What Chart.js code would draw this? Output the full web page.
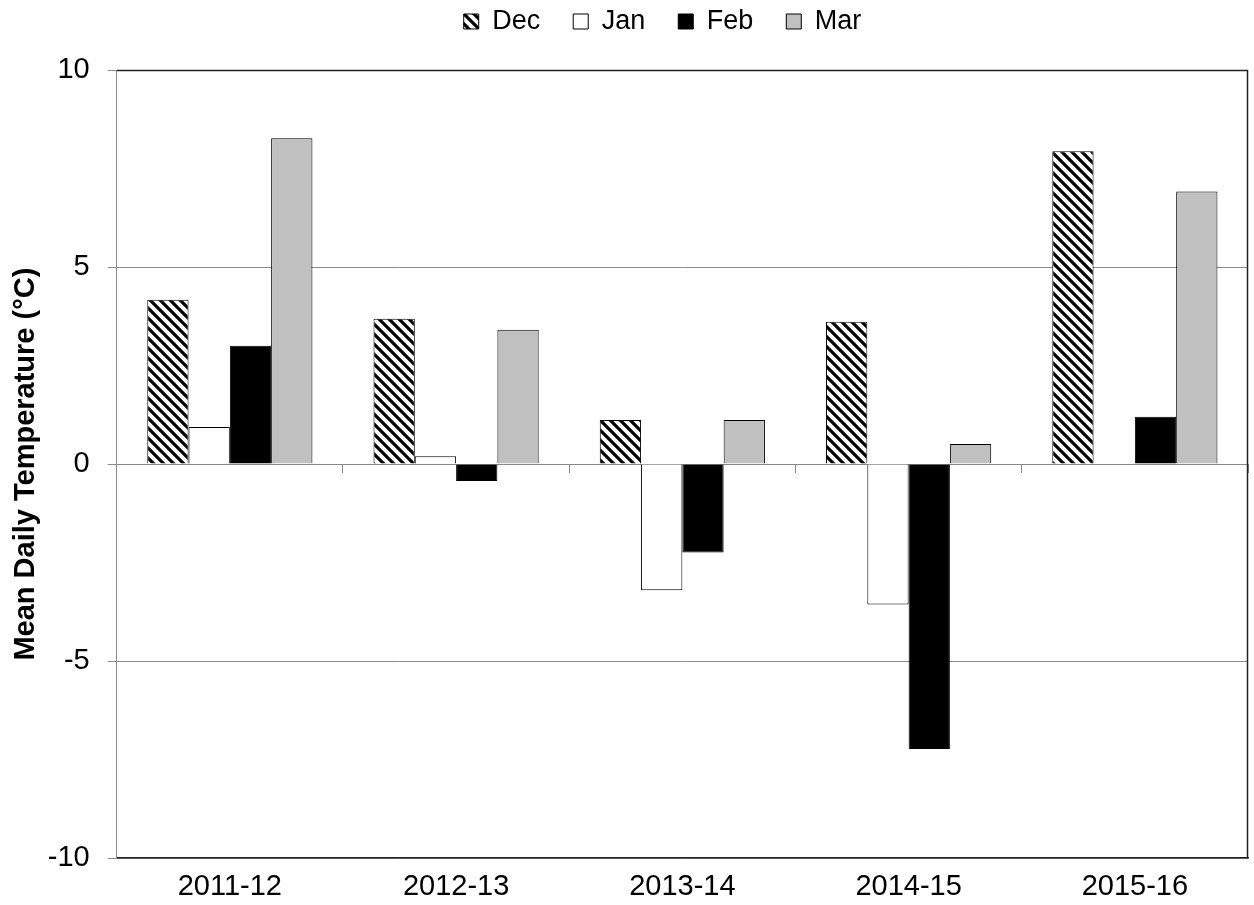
<!DOCTYPE html>
<html><head><meta charset="utf-8">
<script src="https://cdn.jsdelivr.net/npm/chart.js@4.4.0/dist/chart.umd.min.js"></script>
<style>html,body{margin:0;padding:0;background:#fff}#wrap{width:1254px;height:905px}</style>
</head><body><div id="wrap"><canvas id="c" width="1254" height="905"></canvas></div>
<script>
const categories = ["2011-12","2012-13","2013-14","2014-15","2015-16"];
const dec = [4.17, 3.69, 1.12, 3.61, 7.94];
const jan = [0.94, 0.20, -3.20, -3.56, 0];
const feb = [3.00, -0.43, -2.24, -7.23, 1.20];
const mar = [8.27, 3.41, 1.12, 0.51, 6.92];
const yTicks = [-10, -5, 0, 5, 10];

function hatch(){
  const s = 10, cv = document.createElement('canvas');
  cv.width = s; cv.height = s;
  const g = cv.getContext('2d');
  g.fillStyle = '#fff'; g.fillRect(0,0,s,s);
  g.strokeStyle = '#000'; g.lineWidth = 3.2; g.lineCap='square';
  g.beginPath();
  g.moveTo(-2,-2); g.lineTo(s+2,s+2);
  g.moveTo(-2,s-2); g.lineTo(2,s+2);
  g.moveTo(s-2,-2); g.lineTo(s+2,2);
  g.stroke();
  return g.createPattern(cv,'repeat');
}
const hp = hatch();
const FONT = "'Liberation Sans', Arial, sans-serif";

const frame = {
  id:'frame',
  afterLayout(chart){
    const L = chart.legend;
    if (L){ L.left += 36; L.right += 36; L.top -= 25; L.bottom -= 25; }
  },
  afterDraw(chart){
    const a = chart.chartArea, c = chart.ctx;
    c.save();
    c.strokeStyle = '#222'; c.lineWidth = 1.5;
    c.beginPath();
    c.moveTo(a.left, a.top+0.5); c.lineTo(a.right-0.5, a.top+0.5);
    c.lineTo(a.right-0.5, a.bottom);
    c.stroke();
    c.restore();
  }
};

new Chart(document.getElementById('c'), {
  type:'bar',
  data:{
    labels: categories,
    datasets:[
      {label:'Dec', data:dec, backgroundColor:hp, borderColor:'#000', borderWidth:1},
      {label:'Jan', data:jan, backgroundColor:'#fff', borderColor:'#000', borderWidth:1},
      {label:'Feb', data:feb, backgroundColor:'#000', borderColor:'#000', borderWidth:1},
      {label:'Mar', data:mar, backgroundColor:'#c0c0c0', borderColor:'#000', borderWidth:1}
    ]
  },
  options:{
    responsive:false, animation:false, devicePixelRatio:1,
    layout:{padding:{left:5,right:6,top:0,bottom:-2}},
    datasets:{bar:{barPercentage:1, categoryPercentage:0.73}},
    plugins:{
      legend:{position:'top', labels:{font:{family:FONT,size:27}, color:'#000', boxWidth:15, boxHeight:15, padding:33,
        generateLabels(chart){
          return chart.data.datasets.map((d,i)=>({text:d.label, fillStyle:d.backgroundColor, strokeStyle:'#000', lineWidth:1, datasetIndex:i, fontColor:'#000'}));
        }}},
      tooltip:{enabled:false}
    },
    scales:{
      x:{
        grid:{display:false},
        border:{display:true, color:'#222', width:1.5},
        ticks:{font:{family:FONT,size:29}, color:'#000', padding:3}
      },
      x0:{
        type:'category', labels:categories, position:{y:0},
        grid:{offset:true, drawOnChartArea:false, drawTicks:true, tickLength:8, color:'#888'},
        border:{display:true, color:'#888'},
        ticks:{display:false}
      },
      y:{
        min:-10, max:10,
        afterBuildTicks(s){ s.ticks = yTicks.map(v=>({value:v})); },
        grid:{color:'#8c8c8c', tickLength:9, lineWidth:1},
        border:{color:'#8c8c8c'},
        ticks:{font:{family:FONT,size:29}, color:'#000', padding:18},
        title:{display:true, text:'Mean Daily Temperature (°C)', font:{family:FONT,size:29,weight:'bold'}, color:'#000', padding:{top:4,bottom:-14}}
      }
    }
  },
  plugins:[frame]
});
</script></body></html>
